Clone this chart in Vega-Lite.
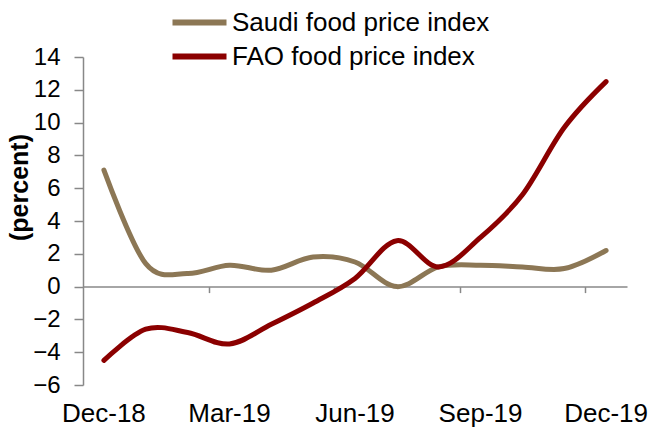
{
  "$schema": "https://vega.github.io/schema/vega-lite/v6.json",
  "width": 544,
  "height": 328,
  "autosize": {"type": "none"},
  "padding": {"left": 83, "top": 57, "right": 23, "bottom": 43},
  "background": "white",
  "config": {
    "view": {"stroke": null},
    "font": "Liberation Sans"
  },
  "data": {
    "values": [
      {"month": "Dec-18", "series": "Saudi food price index", "value": 7.1},
      {"month": "Jan-19", "series": "Saudi food price index", "value": 1.4},
      {"month": "Feb-19", "series": "Saudi food price index", "value": 0.8},
      {"month": "Mar-19", "series": "Saudi food price index", "value": 1.3},
      {"month": "Apr-19", "series": "Saudi food price index", "value": 1.0},
      {"month": "May-19", "series": "Saudi food price index", "value": 1.8},
      {"month": "Jun-19", "series": "Saudi food price index", "value": 1.5},
      {"month": "Jul-19", "series": "Saudi food price index", "value": 0.0},
      {"month": "Aug-19", "series": "Saudi food price index", "value": 1.2},
      {"month": "Sep-19", "series": "Saudi food price index", "value": 1.3},
      {"month": "Oct-19", "series": "Saudi food price index", "value": 1.2},
      {"month": "Nov-19", "series": "Saudi food price index", "value": 1.1},
      {"month": "Dec-19", "series": "Saudi food price index", "value": 2.2},
      {"month": "Dec-18", "series": "FAO food price index", "value": -4.5},
      {"month": "Jan-19", "series": "FAO food price index", "value": -2.6},
      {"month": "Feb-19", "series": "FAO food price index", "value": -2.8},
      {"month": "Mar-19", "series": "FAO food price index", "value": -3.5},
      {"month": "Apr-19", "series": "FAO food price index", "value": -2.3},
      {"month": "May-19", "series": "FAO food price index", "value": -1.0},
      {"month": "Jun-19", "series": "FAO food price index", "value": 0.5},
      {"month": "Jul-19", "series": "FAO food price index", "value": 2.8},
      {"month": "Aug-19", "series": "FAO food price index", "value": 1.2},
      {"month": "Sep-19", "series": "FAO food price index", "value": 3.0},
      {"month": "Oct-19", "series": "FAO food price index", "value": 5.6},
      {"month": "Nov-19", "series": "FAO food price index", "value": 9.7},
      {"month": "Dec-19", "series": "FAO food price index", "value": 12.5}
    ]
  },
  "resolve": {"axis": {"x": "independent"}},
  "layer": [
    {
      "mark": {"type": "point", "opacity": 0},
      "encoding": {
        "x": {
          "field": "month",
          "type": "ordinal",
          "sort": null,
          "scale": {"type": "band", "paddingInner": 0, "paddingOuter": 0},
          "axis": {
            "orient": "bottom",
            "offset": -98.4,
            "title": null,
            "labels": false,
            "domainColor": "#888888",
            "domainWidth": 1.5,
            "tickOffset": -20.92,
            "tickSize": 6,
            "tickWidth": 1.5,
            "tickColor": "#888888",
            "tickOpacity": {"condition": {"test": "indexof(['Mar-19','Jun-19','Sep-19','Dec-19'], datum.value) >= 0", "value": 1}, "value": 0}
          }
        }
      }
    },
    {
      "mark": {"type": "line", "interpolate": "cardinal", "strokeWidth": 5, "strokeCap": "round"},
      "encoding": {
        "x": {
          "field": "month",
          "type": "ordinal",
          "sort": null,
          "axis": {
            "orient": "bottom",
            "title": null,
            "domain": false,
            "ticks": false,
            "labelAngle": 0,
            "labelFontSize": 26,
            "labelColor": "black",
            "labelPadding": 15,
            "labelBound": false,
            "labelOverlap": false,
            "labelExpr": "indexof(['Dec-18','Mar-19','Jun-19','Sep-19','Dec-19'], datum.value) >= 0 ? datum.value : ''"
          }
        },
        "y": {
          "field": "value",
          "type": "quantitative",
          "scale": {"domain": [-6, 14], "nice": false, "zero": false},
          "axis": {
            "values": [-6, -4, -2, 0, 2, 4, 6, 8, 10, 12, 14],
            "grid": false,
            "title": "(percent)",
            "titleFontSize": 25,
            "titleFontWeight": "bold",
            "titleColor": "black",
            "titleX": -64,
            "titleY": 130,
            "titleBaseline": "middle",
            "titleAngle": -90,
            "labelFontSize": 24,
            "labelColor": "black",
            "labelPadding": 14,
            "domainColor": "#888888",
            "domainWidth": 1.5,
            "tickColor": "#888888",
            "tickWidth": 1.5,
            "tickSize": 9
          }
        },
        "color": {
          "field": "series",
          "type": "nominal",
          "sort": ["Saudi food price index", "FAO food price index"],
          "scale": {"domain": ["Saudi food price index", "FAO food price index"], "range": ["#8c7755", "#8b0000"]},
          "legend": {
            "orient": "none",
            "legendX": 100,
            "legendY": -51,
            "title": null,
            "symbolType": "M-2,0H2",
            "symbolSize": 729,
            "symbolStrokeWidth": 6,
            "labelFontSize": 26,
            "labelColor": "black",
            "labelOffset": 16,
            "labelLimit": 500,
            "rowPadding": 4
          }
        }
      }
    }
  ]
}
